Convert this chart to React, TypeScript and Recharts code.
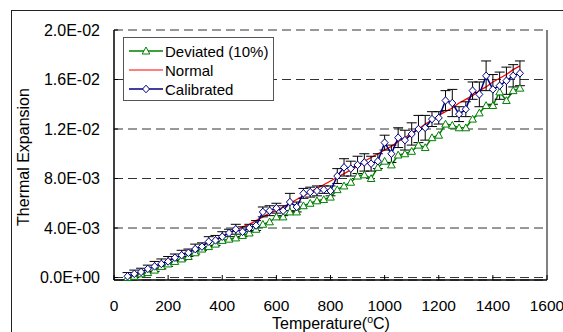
import { LineChart, Line, XAxis, YAxis, CartesianGrid, ErrorBar, ReferenceLine, Label } from 'recharts';

// temperature (°C)
const temperatures = [
  50, 75, 100, 125, 150, 175, 200, 225, 250, 275,
  300, 325, 350, 375, 400, 425, 450, 475, 500, 525,
  550, 575, 600, 625, 650, 675, 700, 725, 750, 775,
  800, 825, 850, 875, 900, 925, 950, 975, 1000, 1025,
  1050, 1075, 1100, 1125, 1150, 1175, 1200, 1225, 1250, 1275,
  1300, 1325, 1350, 1375, 1400, 1425, 1450, 1475, 1500,
];

const deviated = [
  0.0000, 0.0001, 0.0003, 0.0004, 0.0006, 0.0009, 0.0011, 0.0013, 0.0015, 0.0017,
  0.0020, 0.0023, 0.0025, 0.0027, 0.0030, 0.0031, 0.0032, 0.0034, 0.0036, 0.0039,
  0.0043, 0.0045, 0.0049, 0.0049, 0.0053, 0.0053, 0.0058, 0.0060, 0.0062, 0.0063,
  0.0065, 0.0071, 0.0074, 0.0077, 0.0082, 0.0083, 0.0080, 0.0089, 0.0094, 0.0091,
  0.0099, 0.0100, 0.0102, 0.0107, 0.0105, 0.0113, 0.0115, 0.0124, 0.0123, 0.0121,
  0.0121, 0.0128, 0.0133, 0.0139, 0.0139, 0.0150, 0.0143, 0.0151, 0.0153,
];

const normal = [
  0.0000, 0.0002, 0.00043, 0.00065, 0.0009, 0.0011, 0.0014, 0.0016, 0.0018, 0.0021,
  0.0023, 0.0026, 0.0028, 0.0031, 0.0033, 0.0036, 0.0038, 0.0041, 0.0043, 0.0046,
  0.0049, 0.0052, 0.0054, 0.0057, 0.0060, 0.0063, 0.0066, 0.0069, 0.0072, 0.0075,
  0.0078, 0.0081, 0.0084, 0.0087, 0.0090, 0.0094, 0.0097, 0.0100, 0.0103, 0.0106,
  0.0110, 0.0113, 0.0117, 0.0120, 0.0124, 0.0127, 0.0131, 0.0134, 0.0137, 0.0141,
  0.0144, 0.0147, 0.0151, 0.0154, 0.0158, 0.0161, 0.0164, 0.0168, 0.0171,
];

const calibrated = [
  0.0001, 0.0003, 0.00045, 0.0007, 0.0009, 0.0011, 0.0013, 0.0016, 0.0018, 0.0020,
  0.0023, 0.0025, 0.0029, 0.0030, 0.0033, 0.0036, 0.0039, 0.0037, 0.0040, 0.0042,
  0.0053, 0.0054, 0.0056, 0.0054, 0.0061, 0.0057, 0.0068, 0.0069, 0.0070, 0.0071,
  0.0070, 0.0082, 0.0089, 0.0088, 0.0091, 0.0093, 0.0092, 0.0094, 0.0109, 0.0100,
  0.0113, 0.0111, 0.0116, 0.0120, 0.0121, 0.0128, 0.0129, 0.0143, 0.0141, 0.0132,
  0.0136, 0.0151, 0.0148, 0.0163, 0.0152, 0.0155, 0.0159, 0.0163, 0.0165,
];

// +/- error on the calibrated values
const calibratedErr = [
  0.0003, 0.0003, 0.0003, 0.0003, 0.0004, 0.0004, 0.0004, 0.0003, 0.0004, 0.0003,
  0.0004, 0.0003, 0.0004, 0.0004, 0.0004, 0.0003, 0.0004, 0.0004, 0.0003, 0.0004,
  0.0004, 0.0004, 0.0004, 0.0004, 0.0007, 0.0004, 0.0004, 0.0004, 0.0004, 0.0003,
  0.0004, 0.0006, 0.0007, 0.0006, 0.0007, 0.0007, 0.0006, 0.0006, 0.0006, 0.0007,
  0.0008, 0.0008, 0.0009, 0.0011, 0.0010, 0.0006, 0.0005, 0.0008, 0.0011, 0.0006,
  0.0006, 0.0007, 0.0010, 0.0012, 0.0012, 0.0011, 0.0011, 0.0009, 0.0010,
];

const xTicks = [0, 200, 400, 600, 800, 1000, 1200, 1400, 1600];
const yTicks = [0, 0.004, 0.008, 0.012, 0.016, 0.02];

const data = temperatures.map((t, i) => ({
  t,
  deviated: deviated[i],
  normal: normal[i],
  calibrated: calibrated[i],
  err: calibratedErr[i],
}));

const GREEN = '#008000';
const RED = '#ff0000';
const BLUE = '#000080';
const FONT = '"Liberation Sans", Arial, sans-serif';

const sci = (v: number) => {
  const [m, e] = v.toExponential(1).split('e');
  const n = Math.abs(parseInt(e, 10));
  return `${m}E${e.startsWith('-') ? '-' : '+'}${n < 10 ? '0' + n : n}`;
};

const Triangle = (props: any) => {
  const { cx, cy, index } = props;
  return (
    <path key={`tri-${index}`} d={`M${cx},${cy - 3.8}L${cx + 3.8},${cy + 3}L${cx - 3.8},${cy + 3}Z`}
      fill="#fff" stroke={GREEN} strokeWidth={1} />
  );
};

const Diamond = (props: any) => {
  const { cx, cy, index } = props;
  return (
    <path key={`dia-${index}`} d={`M${cx},${cy - 3.8}L${cx + 3.5},${cy}L${cx},${cy + 3.8}L${cx - 3.5},${cy}Z`}
      fill="#fff" stroke={BLUE} strokeWidth={1} />
  );
};

const LegendBox = () => {
  const rows = [
    { name: 'Deviated (10%)', color: GREEN, mark: 'tri' },
    { name: 'Normal', color: RED, mark: '' },
    { name: 'Calibrated', color: BLUE, mark: 'dia' },
  ];
  return (
    <div style={{
      position: 'absolute', left: 123, top: 37, width: 149, height: 62,
      border: '1px solid #555', background: '#fff', fontFamily: FONT, fontSize: 15,
    }}>
      {rows.map((r, i) => (
        <div key={r.name} style={{ position: 'absolute', left: 4, top: 4 + i * 19, height: 18, display: 'flex', alignItems: 'center' }}>
          <svg width={36} height={12}>
            <line x1={1} y1={6} x2={35} y2={6} stroke={r.color} strokeWidth={r.mark ? 1.5 : 1.2} />
            {r.mark === 'tri' && <path d="M18,2L21.8,9L14.2,9Z" fill="#fff" stroke={r.color} />}
            {r.mark === 'dia' && <path d="M18,2.2L21.5,6L18,9.8L14.5,6Z" fill="#fff" stroke={r.color} />}
          </svg>
          <span style={{ marginLeft: 1, color: '#000' }}>{r.name}</span>
        </div>
      ))}
    </div>
  );
};

export default function App() {
  return (
    <div style={{ position: 'absolute', left: 0, top: 0, width: 563, height: 332, overflow: 'hidden', background: '#fff' }}>
      <div style={{ position: 'absolute', left: 11, top: 10, width: 700, height: 500, borderTop: '1px solid #222', borderLeft: '1px solid #222' }} />
      <LineChart width={563} height={332} data={data} margin={{ top: 30, right: 16, bottom: 22, left: 14 }}>
        <CartesianGrid vertical={false} stroke="#333" strokeDasharray="9 5" />
        <XAxis
          dataKey="t" type="number" domain={[0, 1600]} ticks={xTicks} interval={0}
          axisLine={{ stroke: '#000', strokeWidth: 1.5 }} tickLine={{ stroke: '#000' }}
          tickSize={-5} tickMargin={25} height={30}
          tick={{ fill: '#000', fontSize: 15.5, fontFamily: FONT }}
        >
          <Label content={() => (
            <text x={331} y={329} textAnchor="middle" fontSize={16} fontFamily={FONT} fill="#000">
              Temperature(<tspan dy={-6} fontSize={10.5}>o</tspan><tspan dy={6}>C)</tspan>
            </text>
          )} />
        </XAxis>
        <YAxis
          type="number" domain={[0, 0.02]} ticks={yTicks} interval={0} width={100}
          tickFormatter={sci}
          axisLine={{ stroke: '#000', strokeWidth: 1.5 }} tickLine={{ stroke: '#000' }}
          tickSize={-4} tickMargin={18}
          tick={{ fill: '#000', fontSize: 16, fontFamily: FONT }}
        >
          <Label content={() => (
            <text x={29} y={157} transform="rotate(-90 29 157)" textAnchor="middle" fontSize={16} fontFamily={FONT} fill="#000">
              Thermal Expansion
            </text>
          )} />
        </YAxis>
        <ReferenceLine x={1600} stroke="#808080" strokeWidth={2} />
        <Line dataKey="deviated" stroke={GREEN} strokeWidth={1.5} dot={Triangle} isAnimationActive={false} />
        <Line dataKey="normal" stroke={RED} strokeWidth={1.3} dot={false} isAnimationActive={false} />
        <Line dataKey="calibrated" stroke={BLUE} strokeWidth={1.5} dot={Diamond} isAnimationActive={false}>
          <ErrorBar dataKey="err" direction="y" width={5} stroke="#000" strokeWidth={1} />
        </Line>
      </LineChart>
      <LegendBox />
    </div>
  );
}
